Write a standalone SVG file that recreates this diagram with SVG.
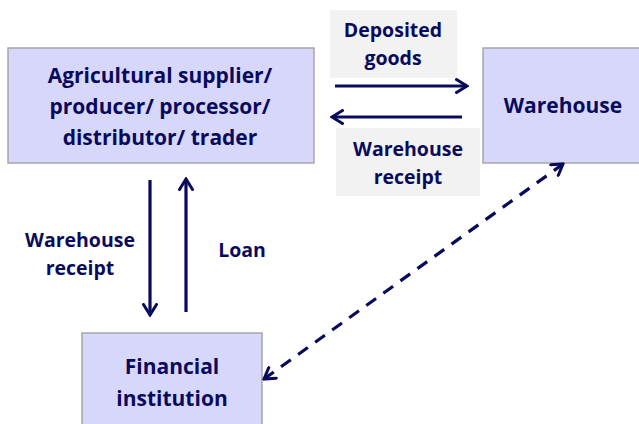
<svg xmlns="http://www.w3.org/2000/svg" width="639" height="424" viewBox="0 0 639 424">
  <style>
    .node { fill: #d7d7fc; stroke: #a6a6a6; stroke-width: 1.5; }
    .tag { fill: #f2f2f2; }
    .txt { font-family: "Open Sans", "Liberation Sans", sans-serif; font-weight: bold; fill: #0a0a5c; text-anchor: middle; }
    .big { font-size: 21px; }
    .small { font-size: 19.5px; }
    .flow { stroke: #0a0a5c; stroke-width: 3.2; fill: none; }
    .dash { stroke-dasharray: 12 9; }
  </style>
  <defs>
    <marker id="head" viewBox="0 0 14 16" refX="12" refY="8" markerWidth="14" markerHeight="16" markerUnits="userSpaceOnUse" orient="auto-start-reverse">
      <path d="M1.5,1.5 L12,8 L1.5,14.5" fill="none" stroke="#0a0a5c" stroke-width="3" stroke-linecap="round" stroke-linejoin="miter"/>
    </marker>
  </defs>

  <rect width="639" height="424" fill="#ffffff"/>

  <!-- edge label backgrounds -->
  <rect class="tag" x="330" y="10" width="127" height="68"/>
  <rect class="tag" x="336" y="128" width="144" height="68"/>

  <g id="producer">
    <rect class="node" x="8" y="48" width="306" height="115"/>
    <text class="txt big" x="160" y="83">Agricultural supplier/</text>
    <text class="txt big" x="160" y="114">producer/ processor/</text>
    <text class="txt big" x="160" y="145">distributor/ trader</text>
  </g>

  <g id="warehouse">
    <rect class="node" x="483" y="48" width="170" height="115"/>
    <text class="txt big" x="563" y="113">Warehouse</text>
  </g>

  <g id="financial">
    <rect class="node" x="82" y="333" width="180" height="110"/>
    <text class="txt big" x="172" y="374">Financial</text>
    <text class="txt big" x="172" y="406">institution</text>
  </g>

  <g id="connectors">
    <line class="flow" x1="335" y1="86" x2="467" y2="86" marker-end="url(#head)"/>
    <line class="flow" x1="462" y1="117" x2="332" y2="117" marker-end="url(#head)"/>
    <line class="flow" x1="150" y1="180" x2="150" y2="315" marker-end="url(#head)"/>
    <line class="flow" x1="186" y1="312" x2="186" y2="179" marker-end="url(#head)"/>
    <line class="flow dash" x1="264" y1="379" x2="563" y2="164" marker-start="url(#head)" marker-end="url(#head)"/>
  </g>

  <g id="labels">
    <text class="txt small" x="393" y="37">Deposited</text>
    <text class="txt small" x="393" y="65">goods</text>
    <text class="txt small" x="408" y="156">Warehouse</text>
    <text class="txt small" x="408" y="184">receipt</text>
    <text class="txt small" x="80" y="247">Warehouse</text>
    <text class="txt small" x="80" y="275">receipt</text>
    <text class="txt small" x="242" y="257">Loan</text>
  </g>
</svg>
